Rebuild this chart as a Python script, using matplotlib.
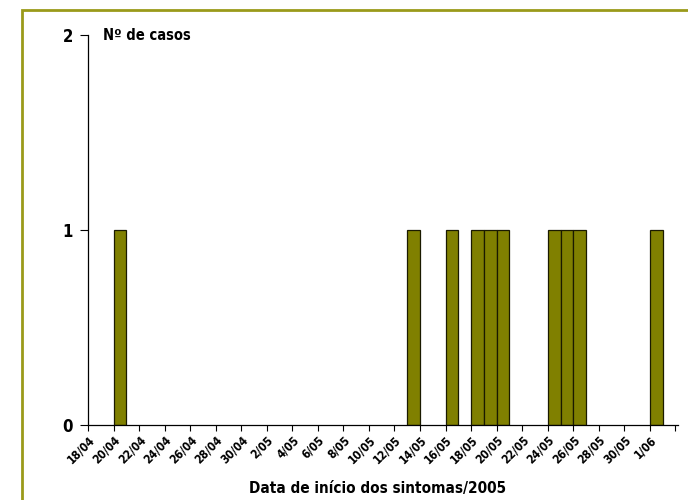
import matplotlib.pyplot as plt
from matplotlib.patches import Rectangle

plt.rcParams['font.family'] = ['DejaVu Sans']
plt.rcParams['font.stretch'] = 'condensed'

# days counted from 18/04/2005
case_days = [2, 25, 28, 30, 31, 32, 36, 37, 38, 44]
case_counts = [1, 1, 1, 1, 1, 1, 1, 1, 1, 1]
tick_labels = ['18/04', '20/04', '22/04', '24/04', '26/04', '28/04', '30/04',
               '2/05', '4/05', '6/05', '8/05', '10/05', '12/05', '14/05',
               '16/05', '18/05', '20/05', '22/05', '24/05', '26/05', '28/05',
               '30/05', '1/06', '']

fig = plt.figure(figsize=(6.88, 5), dpi=100)
ax = fig.add_axes([88 / 688, 75 / 500, 590 / 688, 390 / 500])

ax.bar(case_days, case_counts, width=1, align='edge', color='#808000',
       edgecolor='#1a1a00', linewidth=0.9)

ax.set_xlim(0, 46.2)
ax.set_ylim(0, 2)
ax.set_xticks(range(0, 47, 2))
ax.set_xticklabels(tick_labels, rotation=45, ha='right', rotation_mode='anchor',
                   fontsize=8.5, fontweight='bold')
ax.set_yticks([0, 1, 2])
ax.set_yticklabels(['0', '1', '2'], fontsize=12, fontweight='bold')
ax.tick_params(axis='x', length=4, width=0.8, pad=2)
ax.tick_params(axis='y', length=6, width=0.8, pad=5)
for s in ['top', 'right']:
    ax.spines[s].set_visible(False)
ax.spines['left'].set_linewidth(0.9)
ax.spines['bottom'].set_linewidth(0.9)

ax.text(1.2, 2, 'Nº de casos', fontsize=10.5, fontweight='bold', va='center')
fig.text(378 / 688, 12 / 500, 'Data de início dos sintomas/2005',
         ha='center', va='center', fontsize=11, fontweight='bold')

fig.patches.append(Rectangle((22 / 688, -0.1), 1.0, 490 / 500 + 0.1,
                             transform=fig.transFigure, fill=False,
                             edgecolor='#9a9a1a', linewidth=2))

fig.savefig('out.png', dpi=100)
